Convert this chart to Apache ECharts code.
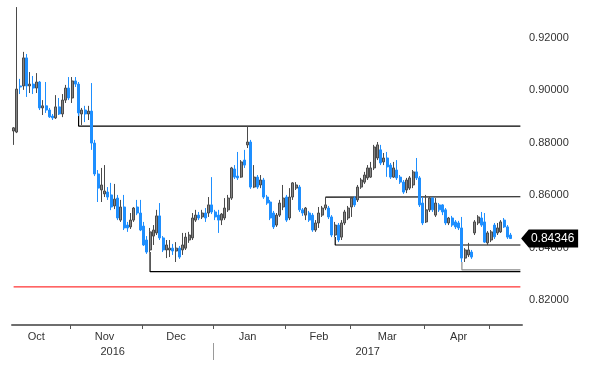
<!DOCTYPE html>
<html><head><meta charset="utf-8">
<script src="https://cdn.jsdelivr.net/npm/echarts@6/dist/echarts.min.js"></script>
<style>html,body{margin:0;padding:0;background:#fff}#c{width:600px;height:374px}</style>
</head><body><div id="c"></div>
<script>
// ---------- data ----------
const firstDate = '2016-10-06';
const totalSlots = 157; // trading-day slots on the axis (last 3 empty)
const open = [
.8845,.8841,.9017,.9017,.9124,.9017,.9024,.9009,.9032,.8933,.8941,.8925,.8902,.8895,.8937,.8910,.8963,.9009,.8971,.9036,
.9024,.8910,.8925,.8910,.8921,.8799,.8681,.8620,.8605,.8612,.8601,.8559,.8589,.8505,.8555,.8486,.8479,.8505,.8555,.8532,
.8482,.8429,.8391,.8444,.8456,.8521,.8437,.8391,.8391,.8398,.8387,.8398,.8391,.8398,.8429,.8437,.8505,.8524,.8517,.8532,
.8532,.8563,.8536,.8524,.8505,.8513,.8544,.8589,.8700,.8673,.8669,.8734,.8792,.8803,.8631,.8669,.8639,.8658,.8593,.8574,
.8532,.8486,.8524,.8555,.8593,.8513,.8593,.8627,.8631,.8544,.8524,.8532,.8524,.8467,.8494,.8524,.8551,.8551,.8517,.8448,
.8486,.8440,.8494,.8513,.8555,.8589,.8582,.8631,.8650,.8666,.8669,.8704,.8742,.8773,.8727,.8742,.8715,.8669,.8696,.8669,
.8650,.8620,.8627,.8639,.8689,.8666,.8570,.8498,.8544,.8589,.8524,.8563,.8563,.8544,.8494,.8513,.8498,.8494,.8475,.8360,
.8372,.8383,.8456,.8494,.8513,.8498,.8418,.8429,.8486,.8456,.8460,.8505,.8479,.8448];
const close = [
.8857,.9005,.9013,.9124,.9017,.9024,.9009,.9032,.8933,.8941,.8925,.8899,.8895,.8937,.8910,.8963,.9009,.8971,.9036,.9024,
.8914,.8925,.8910,.8921,.8799,.8681,.8627,.8639,.8616,.8593,.8555,.8585,.8513,.8555,.8475,.8475,.8505,.8551,.8532,.8467,
.8410,.8383,.8460,.8467,.8521,.8437,.8391,.8410,.8398,.8387,.8398,.8364,.8410,.8440,.8448,.8513,.8524,.8513,.8532,.8513,
.8563,.8536,.8517,.8505,.8528,.8551,.8589,.8704,.8669,.8666,.8727,.8715,.8803,.8631,.8669,.8631,.8658,.8593,.8570,.8513,
.8479,.8524,.8570,.8589,.8505,.8593,.8647,.8639,.8544,.8532,.8551,.8505,.8467,.8494,.8532,.8551,.8563,.8517,.8448,.8486,
.8429,.8494,.8536,.8551,.8589,.8563,.8631,.8658,.8677,.8704,.8704,.8784,.8792,.8723,.8742,.8708,.8669,.8704,.8666,.8650,
.8612,.8658,.8666,.8689,.8666,.8563,.8494,.8544,.8589,.8544,.8570,.8544,.8536,.8494,.8513,.8486,.8479,.8475,.8360,.8391,
.8391,.8364,.8498,.8517,.8486,.8421,.8456,.8460,.8441,.8475,.8498,.8479,.8440,.84346];
const high = [
.8860,.9318,.9044,.9147,.9139,.9070,.9055,.9066,.9036,.8963,.9032,.8933,.8910,.8982,.8971,.8986,.9021,.9051,.9051,.9051,
.9032,.8933,.8941,.8941,.9028,.8811,.8696,.8704,.8715,.8631,.8647,.8643,.8601,.8582,.8601,.8498,.8532,.8555,.8582,.8582,
.8498,.8444,.8475,.8486,.8544,.8570,.8444,.8429,.8429,.8414,.8421,.8406,.8456,.8456,.8460,.8532,.8544,.8536,.8544,.8551,
.8593,.8669,.8544,.8544,.8532,.8589,.8601,.8708,.8715,.8765,.8734,.8773,.8864,.8811,.8715,.8677,.8677,.8666,.8601,.8582,
.8540,.8532,.8582,.8639,.8601,.8627,.8650,.8650,.8639,.8551,.8555,.8540,.8532,.8505,.8555,.8559,.8593,.8559,.8524,.8498,
.8494,.8505,.8544,.8559,.8593,.8597,.8639,.8666,.8689,.8715,.8727,.8792,.8803,.8792,.8761,.8765,.8723,.8727,.8734,.8677,
.8658,.8666,.8673,.8696,.8742,.8673,.8593,.8601,.8593,.8593,.8589,.8570,.8566,.8551,.8517,.8521,.8505,.8502,.8517,.8398,
.8418,.8391,.8505,.8524,.8536,.8532,.8463,.8467,.8494,.8494,.8505,.8513,.8486,.8456];
const low = [
.8792,.8837,.8986,.9002,.8975,.8990,.8986,.8990,.8925,.8906,.8914,.8895,.8887,.8891,.8906,.8898,.8952,.8963,.8952,.9013,
.8902,.8868,.8879,.8887,.8773,.8673,.8574,.8574,.8593,.8582,.8543,.8547,.8505,.8498,.8467,.8460,.8471,.8498,.8524,.8463,
.8406,.8376,.8383,.8410,.8448,.8429,.8383,.8360,.8364,.8372,.8345,.8357,.8372,.8391,.8418,.8429,.8498,.8505,.8509,.8498,
.8517,.8528,.8505,.8456,.8486,.8505,.8536,.8582,.8662,.8658,.8666,.8704,.8780,.8624,.8627,.8624,.8627,.8586,.8563,.8505,
.8471,.8479,.8517,.8543,.8498,.8505,.8582,.8620,.8536,.8521,.8505,.8498,.8460,.8460,.8475,.8517,.8543,.8509,.8440,.8440,
.8421,.8429,.8486,.8505,.8517,.8555,.8574,.8624,.8643,.8658,.8666,.8696,.8734,.8715,.8715,.8670,.8662,.8666,.8658,.8643,
.8605,.8608,.8620,.8627,.8658,.8555,.8486,.8494,.8536,.8536,.8517,.8536,.8524,.8486,.8486,.8479,.8471,.8467,.8345,.8345,
.8364,.8357,.8448,.8486,.8479,.8418,.8410,.8421,.8433,.8448,.8456,.8475,.8433,.8433];
const lastPrice = 0.84346;
const yTickValues = [0.82, 0.84, 0.86, 0.88, 0.90, 0.92];
const monthLabelDates = ['2016-10-17','2016-11-15','2016-12-15','2017-01-16','2017-02-15','2017-03-16','2017-04-17'];
const monthNames = ['Jan','Feb','Mar','Apr','May','Jun','Jul','Aug','Sep','Oct','Nov','Dec'];
// drawn levels: anchor date, anchor price, horizontal level
const levelDates   = ['2016-11-03','2016-12-05','2017-02-17','2017-02-22','2017-04-18'];
const levelAnchors = [0.8914, 0.8383, 0.8593, 0.8440, 0.8345];
const levelValues  = [0.8864, 0.8308, 0.8594, 0.8410, 0.8315];
const redLevel = 0.8250;

// ---------- build ----------
function tradingDays(start, n){
  const out=[]; const d=new Date(start+'T00:00:00Z');
  while(out.length<n){ const wd=d.getUTCDay(); if(wd!==0&&wd!==6) out.push(d.toISOString().slice(0,10)); d.setUTCDate(d.getUTCDate()+1); }
  return out;
}
const dates = tradingDays(firstDate, totalSlots);
const lastDate = dates[dates.length-1];
const candles = close.map((c,i)=>[open[i], c, low[i], high[i]]);
const monthTicks = dates.map((d,i)=> i>0 && d.slice(5,7)!==dates[i-1].slice(5,7) ? i : -1).filter(i=>i>=0);
const monthLabelPos = monthLabelDates.map(d => dates.indexOf(d) + 0.5);
const yearBoundary = dates.findIndex(d => d.startsWith('2017'));
const yearLabelPos = [yearBoundary/2, (yearBoundary + dates.length)/2];

const FONT = '"Liberation Sans", Arial, sans-serif';
const levelColors = ['#000','#000','#000','#000','#8a8a8a'];
const lineSeries = levelDates.map((d,k)=>({
  type:'line', silent:true, symbol:'none', animation:false, z:3,
  lineStyle:{color:levelColors[k], width:1.2},
  data:[[d, levelAnchors[k]],[d, levelValues[k]],[lastDate, levelValues[k]]]
}));
lineSeries.push({type:'line', silent:true, symbol:'none', animation:false, z:3,
  lineStyle:{color:'#ff0000', width:1},
  data:[[dates[0], redLevel],[lastDate, redLevel]]});

const chart = echarts.init(document.getElementById('c'), null, {renderer:'canvas'});
chart.setOption({
  animation:false,
  backgroundColor:'#fff',
  grid:{left:12, right:78, top:0, bottom:49, containLabel:false},
  xAxis:[
    {type:'category', data:dates, boundaryGap:true,
     axisLine:{show:true, lineStyle:{color:'#6e6e6e', width:2}},
     axisTick:{show:false}, axisLabel:{show:false}, splitLine:{show:false}},
    {type:'value', min:0, max:dates.length, position:'bottom', offset:0,
     axisLine:{show:false}, splitLine:{show:false},
     axisTick:{show:true, customValues:monthTicks, length:4, lineStyle:{color:'#555'}},
     axisLabel:{show:true, customValues:monthLabelPos, margin:6, color:'#333', fontSize:11, fontFamily:FONT,
       formatter:v=>monthNames[+dates[Math.floor(v)].slice(5,7)-1]}},
    {type:'value', min:0, max:dates.length, position:'bottom', offset:18,
     axisLine:{show:false}, splitLine:{show:false},
     axisTick:{show:true, customValues:[yearBoundary], length:17, lineStyle:{color:'#9a9a9a'}},
     axisLabel:{show:true, customValues:yearLabelPos, margin:3, color:'#333', fontSize:11, fontFamily:FONT,
       formatter:v=> v<yearBoundary ? dates[0].slice(0,4) : dates[yearBoundary].slice(0,4)}}
  ],
  yAxis:{type:'value', position:'right', min:0.81046, max:0.9345, scale:true,
    axisLine:{show:false}, axisTick:{show:false}, splitLine:{show:false},
    axisLabel:{customValues:yTickValues, margin:7, color:'#333', fontSize:11, fontFamily:FONT,
      formatter:v=>v.toFixed(5)}},
  series:[
    {type:'candlestick', data:candles, barWidth:2.5, z:4,
     itemStyle:{color:'#858585', color0:'#1e8fff', borderColor:'#4a4a4a', borderColor0:'#1e8fff', borderWidth:1},
     markPoint:{
       silent:true, animation:false,
       symbol:'path://M0,9L8,0L60,0L60,18L8,18Z', symbolSize:[57,18], symbolKeepAspect:false,
       symbolOffset:[39,0],
       itemStyle:{color:'#000'},
       label:{show:true, position:'inside', color:'#fff', fontSize:12, fontFamily:FONT, offset:[3,0],
         formatter:()=>lastPrice.toFixed(5)},
       data:[{coord:[dates[close.length-1], lastPrice], value:lastPrice}]
     }},
    ...lineSeries
  ]
});
</script></body></html>
